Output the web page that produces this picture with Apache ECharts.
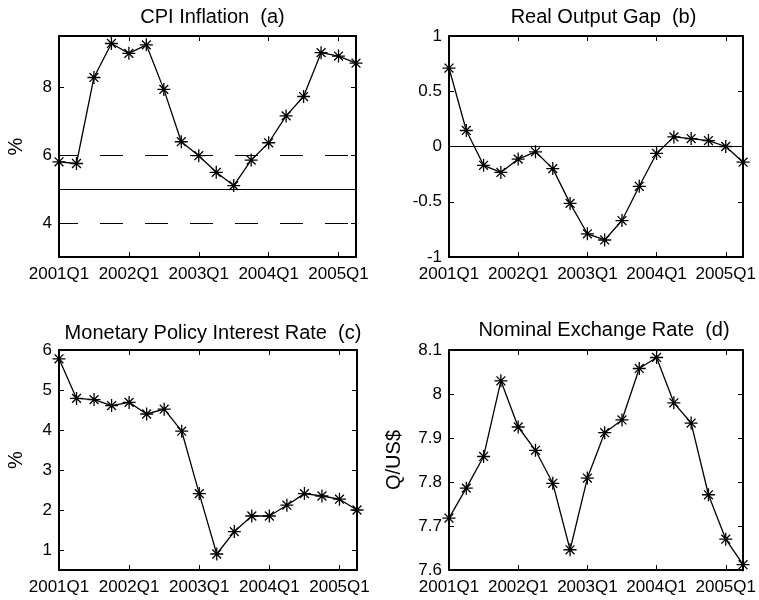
<!DOCTYPE html>
<html>
<head>
<meta charset="utf-8">
<script src="https://cdn.jsdelivr.net/npm/echarts@6/dist/echarts.min.js"></script>
<style>
  html, body { margin: 0; padding: 0; background: #fff; }
  #main { width: 759px; height: 600px; }
</style>
</head>
<body>
<div id="main"></div>
<script>
// 분기 (2001Q1 ~ 2005Q2)
var quarters = ['2001Q1','2001Q2','2001Q3','2001Q4','2002Q1','2002Q2','2002Q3','2002Q4',
  '2003Q1','2003Q2','2003Q3','2003Q4','2004Q1','2004Q2','2004Q3','2004Q4','2005Q1','2005Q2'];

// 데이터
var cpiInflation = [5.80, 5.75, 8.28, 9.28, 8.99, 9.24, 7.93, 6.39, 5.98, 5.49, 5.10, 5.85,
  6.36, 7.15, 7.72, 9.01, 8.91, 8.70];
var outputGap = [0.71, 0.145, -0.17, -0.235, -0.114, -0.048, -0.20, -0.515, -0.79, -0.846,
  -0.67, -0.36, -0.063, 0.087, 0.072, 0.054, 0.0, -0.142];
var policyRate = [5.78, 4.79, 4.76, 4.61, 4.69, 4.40, 4.52, 3.97, 2.41, 0.90, 1.46, 1.85,
  1.85, 2.12, 2.41, 2.35, 2.27, 2.00];
var exchangeRate = [7.718, 7.786, 7.858, 8.030, 7.925, 7.872, 7.797, 7.646, 7.809, 7.912,
  7.941, 8.058, 8.083, 7.980, 7.934, 7.771, 7.670, 7.612];

// 기준선
var inflationTarget = [5];
var inflationBand = [4, 6];
var gapZero = [0];

// 눈금
var ticksA = [4, 6, 8];
var ticksB = [-1, -0.5, 0, 0.5, 1];
var ticksC = [1, 2, 3, 4, 5, 6];
var ticksD = [7.6, 7.7, 7.8, 7.9, 8, 8.1];

var FONT = 'Liberation Sans, Arial, sans-serif';
var STAR = 'path://M0,5L10,5M5,0L5,10M1.6,1.6L8.4,8.4M8.4,1.6L1.6,8.4';

//////////// 패널 구성 ////////////
var panels = [
  { title: 'CPI Inflation  (a)', grid: { left: 59, top: 36, width: 297, height: 221 },
    titleTop: 2, min: 3, max: 9.5, ticks: ticksA, data: cpiInflation, name: '%', nameGap: 33 },
  { title: 'Real Output Gap  (b)', grid: { left: 449, top: 36, width: 299, height: 221 },
    titleTop: 2, min: -1, max: 1, ticks: ticksB, data: outputGap, name: '', nameGap: 0 },
  { title: 'Monetary Policy Interest Rate  (c)', grid: { left: 59, top: 350, width: 298, height: 220 },
    titleTop: 318, min: 0.5, max: 6, ticks: ticksC, data: policyRate, name: '%', nameGap: 33 },
  { title: 'Nominal Exchange Rate  (d)', grid: { left: 449, top: 350, width: 300, height: 220 },
    titleTop: 315, min: 7.6, max: 8.1, ticks: ticksD, data: exchangeRate, name: 'Q/US$', nameGap: 45 }
];

var option = {
  animation: false,
  backgroundColor: '#fff',
  textStyle: { fontFamily: FONT },
  title: [], grid: [], xAxis: [], yAxis: [], series: []
};

var axisLine = { show: true, onZero: false, lineStyle: { color: '#000', width: 2 } };

panels.forEach(function(p, i) {
  option.title.push({
    text: p.title,
    left: p.grid.left + p.grid.width / 2,
    top: p.titleTop,
    textAlign: 'center',
    textStyle: { fontFamily: FONT, fontSize: 20, fontWeight: 'normal', color: '#000' }
  });
  option.grid.push(p.grid);

  // 아래, 위 x축
  [false, true].forEach(function(isTop) {
    option.xAxis.push({
      type: 'category',
      gridIndex: i,
      data: quarters,
      boundaryGap: false,
      position: isTop ? 'top' : 'bottom',
      axisLine: axisLine,
      axisTick: { show: true, inside: true, length: 5, interval: 3, lineStyle: { color: '#000' } },
      axisLabel: { show: !isTop, interval: 3, color: '#000', fontSize: 17, fontFamily: FONT, margin: 9 },
      splitLine: { show: false }
    });
  });

  // 왼쪽, 오른쪽 y축
  [false, true].forEach(function(isRight) {
    option.yAxis.push({
      type: 'value',
      gridIndex: i,
      min: p.min,
      max: p.max,
      position: isRight ? 'right' : 'left',
      name: isRight ? '' : p.name,
      nameLocation: 'middle',
      nameRotate: 90,
      nameGap: p.nameGap,
      nameTextStyle: { fontFamily: FONT, fontSize: 20, color: '#000' },
      axisLine: axisLine,
      axisTick: { show: true, inside: true, length: 5, customValues: p.ticks, lineStyle: { color: '#000' } },
      axisLabel: { show: !isRight, customValues: p.ticks, color: '#000', fontSize: 17, fontFamily: FONT, margin: 7 },
      splitLine: { show: false }
    });
  });

  var s = {
    type: 'line',
    xAxisIndex: i * 2,
    yAxisIndex: i * 2,
    data: p.data,
    symbol: STAR,
    symbolSize: [13, 13],
    showAllSymbol: true,
    clip: false,
    lineStyle: { color: '#000', width: 1.3 },
    itemStyle: { color: '#000', borderColor: '#000', borderWidth: 1.3 },
    z: 5
  };

  // 기준선
  var lines = [];
  if (i === 0) {
    inflationTarget.forEach(function(v) {
      lines.push({ yAxis: v, lineStyle: { type: 'solid', width: 1 } });
    });
    inflationBand.forEach(function(v) {
      lines.push({ yAxis: v, lineStyle: { type: [23, 22], dashOffset: 4, width: 1.2 } });
    });
  }
  if (i === 1) {
    gapZero.forEach(function(v) {
      lines.push({ yAxis: v, lineStyle: { type: 'solid', width: 1 } });
    });
  }
  if (lines.length) {
    s.markLine = {
      silent: true,
      symbol: ['none', 'none'],
      label: { show: false },
      lineStyle: { color: '#000' },
      data: lines
    };
  }
  option.series.push(s);
});

var chart = echarts.init(document.getElementById('main'));
chart.setOption(option);
</script>
</body>
</html>
